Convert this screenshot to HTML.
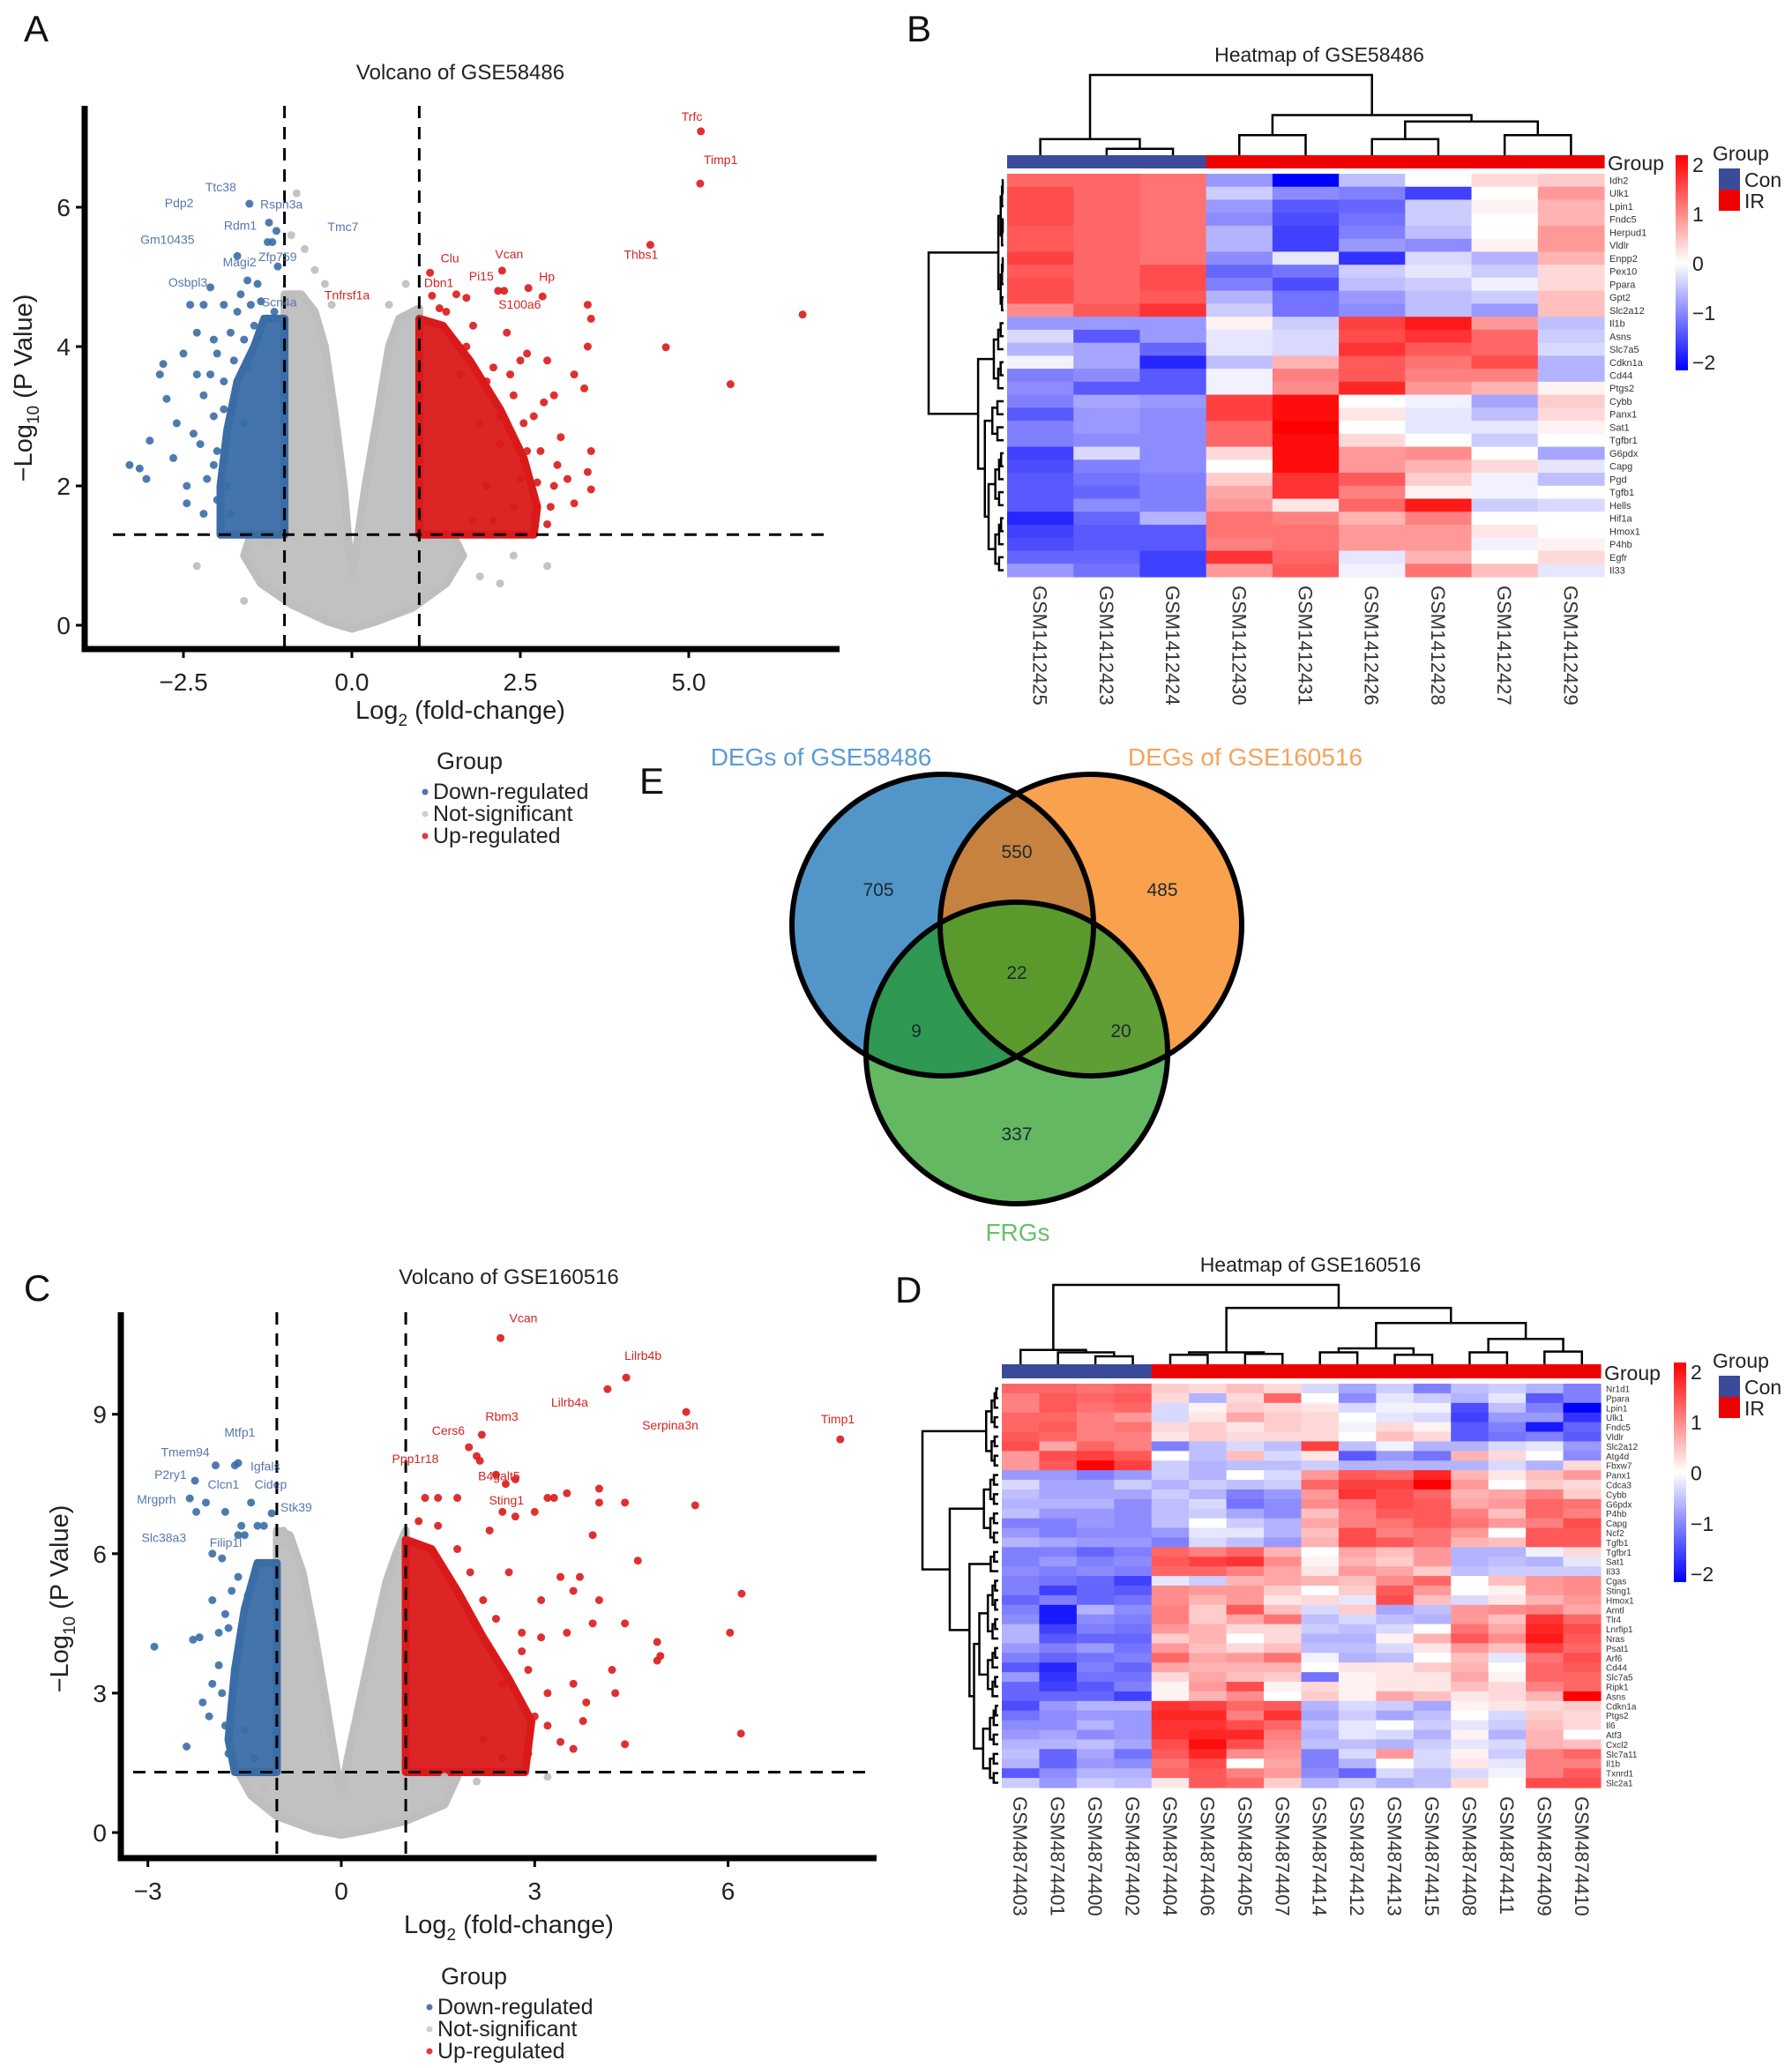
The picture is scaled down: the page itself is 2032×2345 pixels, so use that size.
<!DOCTYPE html>
<html><head><meta charset="utf-8"><style>
html,body{margin:0;padding:0;background:#fff}
svg{display:block;font-family:"Liberation Sans",Arial,sans-serif}
</style></head><body>
<svg id="fig" width="2032" height="2345" viewBox="0 0 2032 2345" xmlns="http://www.w3.org/2000/svg">
<g id="gA"></g>
<g id="gB"></g>
<g id="gC"></g>
<g id="gD"></g>
<g id="gE"></g>
</svg>
<script>
// ================= DATA =================
// Panel A volcano
const aXTicks=[-2.5,0,2.5,5];
const aXTickLabels=["\u22122.5","0.0","2.5","5.0"];
const aYTicks=[0,2,4,6];
const aGrayRegion=[[-1.0,4.75],[-0.75,4.75],[-0.55,4.5],[-0.4,4.0],[-0.25,3.0],[-0.12,2.0],[-0.05,1.2],[0,0.7],[0.08,1.2],[0.2,2.0],[0.38,3.0],[0.55,4.0],[0.7,4.4],[1.0,4.55],[1.0,1.3],[1.5,1.3],[1.65,1.0],[1.4,0.6],[0.9,0.25],[0.35,0.05],[0,-0.05],[-0.35,0.05],[-0.9,0.3],[-1.35,0.6],[-1.6,1.0],[-1.5,1.3],[-1.0,1.3]];
const aDownRegion=[[-1,1.3],[-1,4.4],[-1.3,4.4],[-1.45,4.0],[-1.7,3.5],[-1.85,2.8],[-1.95,2.0],[-1.95,1.3]];
const aUpRegion=[[1,1.3],[1,4.4],[1.35,4.3],[1.75,3.8],[2.2,3.1],[2.55,2.4],[2.75,1.7],[2.7,1.3]];
const aGrayPts=[[-0.82,6.2],[-0.7,5.4],[-0.55,5.1],[-0.4,4.9],[-2.3,0.85],[-1.6,0.35],[-1.25,1.15],[2.2,0.6],[2.9,0.85],[1.9,0.7],[0.8,4.9],[0.55,4.6],[-0.9,5.6],[-0.3,4.6],[1.6,1.1],[2.4,1.0]];
const aDownPts=[[-3.3,2.3],[-3.15,2.25],[-3.05,2.1],[-3.0,2.65],[-2.85,3.6],[-2.8,3.75],[-2.75,3.25],[-2.65,2.4],[-2.5,3.9],[-2.45,1.75],[-2.45,2.0],[-2.4,4.6],[-2.35,2.75],[-2.3,3.6],[-2.3,4.2],[-2.2,4.6],[-2.2,3.3],[-2.15,2.1],[-2.1,4.85],[-2.05,4.1],[-2.05,3.0],[-2.0,2.5],[-1.95,1.4],[-1.9,4.6],[-1.9,3.5],[-1.85,2.0],[-1.8,4.2],[-1.75,3.8],[-1.7,5.3],[-1.7,4.5],[-1.65,4.75],[-1.6,2.9],[-1.55,4.95],[-1.5,4.6],[-1.45,4.3],[-1.4,4.9],[-1.35,4.65],[-1.3,4.4],[-1.52,6.05],[-1.23,5.78],[-1.12,5.66],[-1.18,5.5],[-1.25,5.5],[-1.1,5.15],[-1.15,4.5],[-2.6,2.9],[-2.0,1.8],[-1.8,1.6],[-2.25,2.6],[-2.1,3.6],[-2.0,3.9],[-1.9,3.1],[-2.2,1.6],[-2.05,2.3],[-1.6,4.1],[-1.55,3.7]];
const aUpPts=[[5.18,7.09],[5.17,6.34],[4.43,5.46],[6.69,4.46],[4.66,3.99],[5.62,3.46],[2.23,5.09],[2.62,4.84],[2.17,4.8],[2.26,4.8],[2.83,4.72],[1.16,5.06],[1.55,4.75],[1.7,4.7],[1.19,4.73],[3.5,4.6],[3.55,4.4],[3.5,4.0],[3.55,2.5],[3.3,3.6],[3.45,3.4],[3.0,3.3],[2.9,3.8],[2.6,3.9],[2.5,3.8],[2.3,4.2],[2.8,2.5],[3.1,2.7],[3.2,2.1],[3.5,2.2],[3.55,1.95],[2.95,1.7],[2.7,1.6],[2.9,1.45],[3.3,1.75],[2.5,2.1],[2.2,2.6],[2.0,3.5],[1.8,4.3],[1.7,4.0],[1.6,3.6],[2.1,3.7],[2.4,3.3],[2.7,3.0],[2.55,2.9],[3.05,2.3],[2.75,2.05],[1.8,1.5],[2.1,1.5],[2.4,1.7],[2.6,2.5],[2.0,2.0],[1.9,2.9],[2.2,3.0],[1.4,4.5],[1.3,4.55],[2.85,3.2],[3.0,2.0],[2.35,3.6]];
const aLabels=[["Trfc",5.18,7.09,-22,-12,"up"],["Timp1",5.17,6.34,4,-22,"up"],["Thbs1",4.43,5.46,-30,16,"up"],["Vcan",2.23,5.09,-8,-14,"up"],["Hp",2.62,4.84,12,-8,"up"],["Pi15",2.17,4.8,-33,-12,"up"],["S100a6",2.83,4.72,-50,14,"up"],["Clu",1.16,5.06,12,-12,"up"],["Dbn1",1.7,4.7,-48,-12,"up"],["Tnfrsf1a",1.19,4.73,-122,4,"up"],["Ttc38",-1.52,6.05,-50,-14,"down"],["Rsph3a",-1.23,5.78,-10,-16,"down"],["Pdp2",-1.6,5.9,-90,-8,"down"],["Rdm1",-1.18,5.5,-55,-14,"down"],["Tmc7",-1.12,5.66,58,0,"down"],["Gm10435",-1.7,5.3,-110,-14,"down"],["Zfp759",-1.1,5.15,-22,-6,"down"],["Osbpl3",-2.07,4.86,-50,0,"down"],["Magi2",-1.55,4.95,-28,-16,"down"],["Scn4a",-1.1,4.45,-18,-10,"down"]];

// Panel C volcano
const cXTicks=[-3,0,3,6];
const cXTickLabels=["\u22123","0","3","6"];
const cYTicks=[0,3,6,9];
const cGrayRegion=[[-1,6.5],[-0.8,6.4],[-0.6,5.6],[-0.42,4.3],[-0.25,2.9],[-0.1,1.6],[0,0.8],[0.1,1.6],[0.3,2.9],[0.5,4.2],[0.7,5.4],[0.85,6.0],[1.0,6.5],[1.0,1.3],[1.8,1.2],[1.6,0.6],[1,0.25],[0.4,0.05],[0,-0.05],[-0.4,0.05],[-1.0,0.35],[-1.4,0.8],[-1.6,1.3],[-1,1.3]];
const cDownRegion=[[-1,1.3],[-1,5.8],[-1.3,5.8],[-1.5,4.8],[-1.65,3.5],[-1.75,2.0],[-1.65,1.3]];
const cUpRegion=[[1,1.3],[1,6.3],[1.4,6.1],[1.8,5.2],[2.2,4.2],[2.6,3.3],[2.95,2.4],[2.85,1.3]];
const cGrayPts=[[-0.9,6.5],[-1.1,0.5],[1.6,1.2],[2.1,1.1],[3.2,1.2],[-1.2,1.0],[0.8,5.7],[-0.85,6.2]];
const cDownPts=[[-2.9,4.0],[-2.4,1.85],[-2.3,4.15],[-2.2,4.2],[-2.15,2.8],[-2.05,2.5],[-2.0,6.0],[-2.0,5.0],[-1.95,7.9],[-1.9,3.6],[-1.85,5.9],[-1.8,4.7],[-1.75,1.7],[-1.7,2.8],[-1.6,7.95],[-1.65,7.9],[-1.6,6.4],[-1.5,6.4],[-1.45,5.1],[-2.27,7.57],[-2.35,7.19],[-2.1,7.1],[-1.8,6.9],[-1.4,7.1],[-1.3,6.6],[-1.2,6.6],[-1.08,6.87],[-1.55,6.6],[-2.25,6.9],[-1.9,4.3],[-1.5,2.2],[-2.0,3.2],[-1.35,1.6],[-1.8,2.3],[-1.75,4.4],[-1.85,3.0],[-1.6,5.5],[-1.7,5.2]];
const cUpPts=[[2.47,10.64],[4.42,9.79],[4.13,9.54],[5.35,9.05],[7.74,8.46],[2.18,8.56],[1.98,8.29],[2.1,8.1],[2.15,8.0],[2.4,7.7],[2.55,7.5],[2.7,7.6],[5.49,7.04],[6.21,5.14],[6.03,4.3],[6.2,2.13],[4.6,5.85],[4.9,4.1],[4.9,3.7],[4.95,3.8],[4.4,7.1],[4.4,4.5],[4.4,1.9],[4.2,3.5],[4.25,3.0],[4.0,7.4],[4.0,7.1],[3.9,6.4],[3.7,5.5],[3.6,5.2],[3.5,7.3],[3.3,7.2],[3.2,7.2],[3.0,6.9],[3.1,5.0],[3.5,4.3],[3.6,3.2],[3.8,2.8],[3.75,2.4],[3.2,2.3],[3.0,2.5],[2.9,3.5],[2.5,3.2],[2.8,4.3],[2.6,5.6],[2.3,6.5],[2.7,6.8],[2.5,6.9],[1.8,7.2],[1.5,7.2],[1.3,7.2],[1.2,6.7],[3.6,1.8],[3.4,1.95],[2.9,1.7],[2.5,1.6],[2.2,2.0],[3.9,4.5],[4.0,5.0],[3.4,5.5],[2.2,5.0],[2.0,5.6],[1.8,6.1],[1.5,6.6],[2.4,4.6],[2.8,3.9],[3.2,3.0],[3.1,4.2]];
const cLabels=[["Vcan",2.47,10.64,10,-18,"up"],["Lilrb4b",4.42,9.79,-2,-20,"up"],["Lilrb4a",4.13,9.54,-64,20,"up"],["Serpina3n",5.35,9.05,-50,20,"up"],["Timp1",7.74,8.46,-22,-18,"up"],["Rbm3",2.18,8.56,4,-16,"up"],["Cers6",1.98,8.29,-42,-14,"up"],["Ppp1r18",2.1,8.1,-96,8,"up"],["B4galt5",2.15,8.0,-2,22,"up"],["Sting1",2.4,7.7,-8,34,"up"],["Mtfp1",-1.65,7.95,-12,-30,"down"],["Tmem94",-1.95,7.87,-62,-12,"down"],["Igfals",-1.6,7.9,14,6,"down"],["P2ry1",-2.27,7.57,-46,-2,"down"],["Clcn1",-2.1,7.1,2,-16,"down"],["Cidep",-1.4,7.1,4,-16,"down"],["Mrgprh",-2.35,7.19,-60,6,"down"],["Stk39",-1.08,6.87,10,-2,"down"],["Slc38a3",-2.25,6.9,-62,34,"down"],["Filip1l",-1.55,6.6,-36,24,"down"]];

// Panel B heatmap
const bGenes=["Idh2","Ulk1","Lpin1","Fndc5","Herpud1","Vldlr","Enpp2","Pex10","Ppara","Gpt2","Slc2a12","Il1b","Asns","Slc7a5","Cdkn1a","Cd44","Ptgs2","Cybb","Panx1","Sat1","Tgfbr1","G6pdx","Capg","Pgd","Tgfb1","Hells","Hif1a","Hmox1","P4hb","Egfr","Il33"];
const bSamples=["GSM1412425","GSM1412423","GSM1412424","GSM1412430","GSM1412431","GSM1412426","GSM1412428","GSM1412427","GSM1412429"];
const bGroups=["Con","Con","Con","IR","IR","IR","IR","IR","IR"];
const bValues=[
[1.2,1.2,1.1,-0.8,-2,-0.5,0,0.3,0.4],
[1.4,1.2,1.1,-0.4,-0.9,-1,-1.5,0,0.8],
[1.4,1.2,1.1,-0.8,-1.3,-1.2,-0.4,0.1,0.6],
[1.4,1.2,1.1,-0.9,-1.4,-1.1,-0.4,0,0.6],
[1.3,1.2,1.1,-0.6,-1.5,-1.0,-0.5,0,0.8],
[1.3,1.2,1.1,-0.6,-1.5,-0.8,-0.9,0.1,0.8],
[1.5,1.2,1.1,-0.9,-0.2,-1.6,-0.3,-0.6,0.6],
[1.3,1.2,1.4,-1.2,-1.1,-0.4,-0.2,-0.4,0.3],
[1.4,1.2,1.4,-1.0,-1.4,-0.5,-0.4,-0.1,0.3],
[1.4,1.2,1.3,-0.6,-1.1,-0.8,-0.5,-0.4,0.5],
[0.9,1.3,1.6,-0.4,-1.1,-0.9,-0.5,-0.8,0.5],
[-0.8,-0.8,-0.8,0.1,-0.4,1.5,1.8,0.8,-0.5],
[-0.3,-1.3,-0.8,-0.2,-0.3,1.4,1.6,1.2,-0.4],
[-0.6,-0.7,-1.2,-0.2,-0.3,1.6,1.3,1.2,-0.3],
[-0.1,-0.7,-1.7,-0.5,0.6,1.3,1.1,1.4,-0.6],
[-1.0,-0.9,-1.3,-0.1,1.0,1.3,1.0,1.0,-0.6],
[-0.9,-1.3,-1.3,-0.1,0.9,1.7,0.8,0.6,0.1],
[-1.0,-0.7,-0.8,1.5,1.9,0,-0.1,-0.7,0.4],
[-1.3,-0.8,-0.9,1.5,1.9,0.2,-0.2,-0.5,0.3],
[-1.0,-0.8,-0.9,1.2,2.2,0,-0.2,-0.2,0.1],
[-1.0,-0.9,-0.9,1.2,1.9,0.3,0,-0.4,0],
[-1.5,-0.3,-0.9,0.3,1.9,0.8,0.9,0,-0.7],
[-1.4,-1.0,-0.9,0,1.9,0.8,0.6,0.3,-0.2],
[-1.3,-1.1,-1.0,0.4,1.6,1.3,0.4,-0.1,-0.5],
[-1.3,-1.2,-1.0,0.7,1.6,1.0,0.1,-0.1,0],
[-1.3,-0.9,-1.0,0.8,0.2,1.2,1.8,-0.4,-0.3],
[-1.7,-1.2,-0.6,1.1,1.0,0.6,1.0,0,0],
[-1.5,-1.3,-1.3,1.1,1.1,0.8,0.8,0.2,0],
[-1.4,-1.3,-1.3,1.0,1.1,0.8,0.8,-0.1,0.1],
[-1.2,-1.2,-1.5,1.6,1.2,-0.2,0.6,0,0.3],
[-0.8,-1.1,-1.5,0.8,1.3,-0.1,1.1,0.5,-0.2]];

// Panel D heatmap
const dGenes=["Nr1d1","Ppara","Lpin1","Ulk1","Fndc5","Vldlr","Slc2a12","Atg4d","Fbxw7","Panx1","Cdca3","Cybb","G6pdx","P4hb","Capg","Ncf2","Tgfb1","Tgfbr1","Sat1","Il33","Cgas","Sting1","Hmox1","Arntl","Tlr4","Lnrfip1","Nras","Psat1","Arf6","Cd44","Slc7a5","Ripk1","Asns","Cdkn1a","Ptgs2","Il6","Atf3","Cxcl2","Slc7a11","Il1b","Txnrd1","Slc2a1"];
const dSamples=["GSM4874403","GSM4874401","GSM4874400","GSM4874402","GSM4874404","GSM4874406","GSM4874405","GSM4874407","GSM4874414","GSM4874412","GSM4874413","GSM4874415","GSM4874408","GSM4874411","GSM4874409","GSM4874410"];
const dGroups=["Con","Con","Con","Con","IR","IR","IR","IR","IR","IR","IR","IR","IR","IR","IR","IR"];
const dValues=[
[1.2,1.2,1.1,1.2,0.4,0.3,0.5,0.3,-0.3,-0.7,-0.4,-1.0,-0.5,-0.4,-0.6,-1.0],
[1.0,1.3,1.2,1.3,0.3,-0.6,0.3,1.2,0,-0.9,-0.2,-0.4,-0.6,-0.2,-1.3,-1.0],
[1.0,1.3,1.1,1.2,-0.3,0.1,0.4,0.3,0.2,-0.3,-0.1,-0.1,-1.4,-0.5,-1.0,-2.0],
[1.2,1.2,1.0,0.8,-0.3,0.2,0.7,0.4,0.3,0,-0.2,-0.3,-1.5,-0.8,-0.8,-1.6],
[1.2,1.3,1.0,1.1,0.3,0.4,0.2,0.4,0.3,-0.1,0.3,0.1,-1.3,-1.0,-1.8,-1.2],
[1.3,1.2,1.0,1.0,0.2,0.4,0.3,0.3,0.3,0,0.5,0.3,-1.3,-1.1,-1.0,-1.3],
[1.4,0.7,1.2,1.0,-1.0,-0.5,-0.3,-0.5,1.5,-0.5,-0.1,-0.6,-0.6,-0.3,-0.2,-0.8],
[0.8,1.4,1.5,1.3,0,-0.5,0.5,-0.3,0.2,-1.3,-0.8,-1.1,0.6,0.3,0,-0.9],
[0.8,1.3,2.0,1.5,-0.4,-0.6,-0.5,-0.5,-0.4,-0.6,-0.6,-0.6,-0.6,-0.3,-0.6,0.3],
[-0.8,-0.8,-1.0,-0.8,-0.4,-0.6,0,-0.3,0.8,1.3,1.2,1.7,0.6,0.2,0.5,0.8],
[-0.3,-0.7,-0.7,-0.4,-0.6,-0.4,-0.5,-0.4,1.2,1.5,1.5,2.0,0.8,0,0.4,0.3],
[-0.5,-0.7,-0.7,-0.7,-0.4,-0.6,-1.0,-0.8,0.8,1.6,1.4,1.2,0.6,0.7,1.0,0.4],
[-0.6,-0.6,-0.6,-0.9,-0.5,-0.3,-1.1,-0.9,0.9,1.1,1.4,1.3,0.7,0.8,1.2,1.1],
[-0.5,-0.8,-0.8,-0.9,-0.5,-0.4,-0.7,-0.9,0.5,1.0,1.3,1.3,1.0,0.5,1.2,1.0],
[-1.0,-1.0,-0.8,-0.9,-0.5,0,-0.4,-0.6,0.7,1.0,1.1,1.3,1.1,0.8,1.0,1.4],
[-0.8,-1.0,-0.9,-0.9,-0.8,-0.2,-0.2,-0.6,0.5,1.4,1.0,1.1,0.8,0,1.3,1.3],
[-0.6,-0.7,-0.8,-0.8,-1.0,-0.3,-0.5,-0.8,0.6,1.4,1.3,1.1,0.6,0.5,1.3,1.3],
[-1.0,-1.0,-1.2,-1.0,1.2,1.0,1.2,0.6,0,0.7,0.5,0.8,-0.6,-0.6,-0.1,0.3],
[-1.0,-0.8,-1.0,-0.9,1.3,1.5,1.6,0.9,0.1,0.6,0.4,0.8,-0.6,-0.5,-0.6,-0.2],
[-0.9,-1.0,-0.9,-1.0,1.2,1.2,1.0,0.7,0.2,0.8,0.7,0.4,-0.5,-0.4,-0.4,-0.4],
[-1.0,-1.1,-1.2,-1.5,-0.2,-0.4,0.6,0.7,0.6,0.5,0.9,1.2,0,0.5,0.8,0.9],
[-1.0,-1.5,-1.2,-1.3,0.9,0.8,0.8,0.4,0,0.4,1.3,0.8,0,0.1,0.8,0.9],
[-1.2,-1.0,-1.2,-1.1,0.9,0.6,0.8,0.2,0.3,-0.2,1.4,0.5,-0.3,0.2,0.6,0.8],
[-1.0,-1.8,-0.6,-0.9,1.0,0.4,1.3,0.5,-0.3,0.4,-0.7,-0.5,0.8,0.9,1.0,0.7],
[-0.9,-1.8,-0.9,-1.0,1.0,0.4,0.7,1.1,-0.5,-0.3,-0.5,-0.6,0.8,0.5,1.6,1.2],
[-0.6,-1.5,-1.0,-1.1,0.8,0.6,0.3,0.3,-0.4,-0.5,-0.3,0,1.1,0.7,1.7,1.4],
[-0.6,-1.3,-1.2,-1.2,0.4,0.6,0,0.3,-0.6,-0.6,0.1,0.6,1.3,0.9,1.8,1.3],
[-0.8,-1.0,-0.8,-1.1,0.8,0.5,0.3,0.5,-0.5,-0.5,-0.3,0.2,0.8,0.5,1.5,1.2],
[-1.0,-1.2,-1.1,-1.0,1.2,0.7,0.8,1.1,-0.1,-0.6,-0.5,0,0.5,-0.2,1.1,1.4],
[-1.3,-1.7,-1.0,-1.2,0.7,0.6,0.6,0.6,0,0.2,0.2,0.4,0.6,0,1.2,1.3],
[-0.8,-1.6,-1.1,-1.1,0.3,0.7,0.5,0.4,-1.1,0.1,0.2,0.2,0.7,0.1,1.2,1.2],
[-1.2,-1.5,-1.3,-1.0,0.1,0.8,1.4,0.1,0.3,0.1,0.2,0.2,0.5,0.3,1.0,1.2],
[-1.2,-1.2,-1.2,-1.5,0.1,0.6,0.9,0,0.4,0.1,0.7,0.5,0.2,0.3,0.6,2.0],
[-1.4,-0.8,-0.6,-0.6,1.6,1.5,1.2,1.3,-0.6,-0.3,-0.4,-0.7,0.1,0.2,0.3,0.4],
[-1.1,-0.9,-0.8,-0.8,1.7,1.7,1.0,1.6,-0.7,-0.4,-0.7,-0.5,0,-0.3,0.4,0.3],
[-0.9,-0.9,-0.6,-0.8,1.6,1.6,1.4,1.2,-0.5,-0.2,0,-0.4,-0.2,-0.4,0.5,0.3],
[-0.8,-0.7,-0.9,-0.8,1.6,1.7,1.7,1.0,-0.6,-0.2,-0.3,-0.6,0.1,-0.6,0.6,0],
[-0.6,-0.6,-0.5,-0.7,1.4,1.9,1.4,0.9,-0.5,-0.5,-0.6,-0.4,-0.2,-0.3,0.6,0.5],
[-0.5,-1.2,-0.7,-1.1,1.3,1.7,0.9,0.8,-1.0,-0.3,0.8,-0.3,0.1,-0.4,1.0,1.2],
[-0.6,-1.2,-0.8,-0.9,1.1,1.4,0,0.7,-1.0,-0.6,0,-0.3,0.2,-0.2,1.0,1.0],
[-1.3,-0.9,-0.6,-0.6,1.2,1.3,1.0,0.8,-0.9,-1.2,-0.3,-0.5,-0.3,-0.1,1.0,1.3],
[-0.4,-0.8,-0.4,-0.5,0.2,1.3,1.2,0.4,-0.6,-0.4,-0.6,-0.5,0.3,0,1.4,1.4]];

// Venn counts
const vennLabels=["DEGs of GSE58486","DEGs of GSE160516","FRGs"];
const vennCounts={A:705,B:485,C:337,AB:550,AC:9,BC:20,ABC:22};

// ================= HELPERS =================
const NS="http://www.w3.org/2000/svg";
function mk(parent,tag,attrs,text){const e=document.createElementNS(NS,tag);for(const k in attrs)e.setAttribute(k,attrs[k]);if(text!==undefined)e.textContent=text;parent.appendChild(e);return e;}
const BLUE="#3A6DA6",RED="#DA1A1A",GRAY="#BEBEBE";

function volcano(g,cfg){
  const sx=v=>cfg.x0+v*cfg.ux, sy=v=>cfg.y0-v*cfg.uy;
  [[cfg.gray,GRAY,"not-significant-cloud"],[cfg.down,BLUE,"down-regulated-cloud"],[cfg.up,RED,"up-regulated-cloud"]].forEach(([pts,col,nm])=>{
    const p=mk(g,"polygon",{points:pts.map(q=>sx(q[0])+","+sy(q[1])).join(" "),fill:col,stroke:col,"stroke-width":9,"stroke-linejoin":"round","fill-opacity":0.95});
    
    
  });
  [[cfg.grayPts,GRAY,"not-significant-point"],[cfg.downPts,BLUE,"down-regulated-point"],[cfg.upPts,RED,"up-regulated-point"]].forEach(([pts,col,nm])=>{
    pts.forEach(q=>{const c=mk(g,"circle",{cx:sx(q[0]),cy:sy(q[1]),r:4.5,fill:col,"fill-opacity":0.9});
      
      });
  });
  [-1,1].forEach(v=>{const l=mk(g,"line",{x1:sx(v),x2:sx(v),y1:cfg.top,y2:cfg.axY,stroke:"#000","stroke-width":3,"stroke-dasharray":"14,10"});
    
    });
  const hl=mk(g,"line",{x1:cfg.hx1,x2:cfg.hx2,y1:sy(1.3),y2:sy(1.3),stroke:"#000","stroke-width":3,"stroke-dasharray":"14,10"});
  
  
  cfg.labels.forEach(L=>{const col=L[5]=="up"?"#D42424":"#5677AE";
    const t=mk(g,"text",{x:sx(L[1])+L[3],y:sy(L[2])+L[4],"font-size":14,fill:col},L[0]);
    
    });
  const ax=mk(g,"path",{d:`M${cfg.axX},${cfg.top} V${cfg.axY} H${cfg.right}`,fill:"none",stroke:"#000","stroke-width":7});
  
  
  cfg.yTicks.forEach(v=>{mk(g,"line",{x1:cfg.axX-10,x2:cfg.axX,y1:sy(v),y2:sy(v),stroke:"#000","stroke-width":3});
    const t=mk(g,"text",{x:cfg.axX-16,y:sy(v)+10,"font-size":28,"text-anchor":"end",fill:"#222"},String(v));
    
    });
  cfg.xTicks.forEach((v,i)=>{mk(g,"line",{x1:sx(v),x2:sx(v),y1:cfg.axY,y2:cfg.axY+10,stroke:"#000","stroke-width":3});
    const t=mk(g,"text",{x:sx(v),y:cfg.axY+47,"font-size":28,"text-anchor":"middle",fill:"#222"},cfg.xTickLabels[i]);
    
    });
  const tt=mk(g,"text",{x:cfg.titleX,y:cfg.titleY,"font-size":24,"text-anchor":"middle",fill:"#222"},cfg.title);
  
  
  const xt=mk(g,"text",{x:cfg.titleX,y:cfg.xTitleY,"font-size":29,"text-anchor":"middle",fill:"#222"});
  xt.innerHTML='Log<tspan font-size="19" dy="8">2</tspan><tspan dy="-8"> (fold-change)</tspan>';
  
  
  const yt=mk(g,"text",{transform:`translate(${cfg.yTitleX},${cfg.yTitleY}) rotate(-90)`,"font-size":29,"text-anchor":"middle",fill:"#222"});
  yt.innerHTML='\u2212Log<tspan font-size="19" dy="8">10</tspan><tspan dy="-8"> (P Value)</tspan>';
  
  
  const lg=mk(g,"g",{});
  
  
  mk(lg,"text",{x:cfg.legX+8,y:cfg.legY,"font-size":27,fill:"#222"},"Group");
  [["Down-regulated","#5C6FB0"],["Not-significant","#D0D0D0"],["Up-regulated","#E03A3A"]].forEach((e,i)=>{
    const yy=cfg.legY+34+i*25;
    const en=mk(lg,"g",{});
    
    
    mk(en,"circle",{cx:cfg.legX-5,cy:yy-8,r:3.5,fill:e[1]});
    mk(en,"text",{x:cfg.legX+4,y:yy,"font-size":25,fill:"#222"},e[0]);
  });
}

function col(v){v=Math.max(-2,Math.min(2,v));let t=Math.abs(v)/2;const c=Math.round(255*(1-t));return v>=0?`rgb(255,${c},${c})`:`rgb(${c},${c},255)`;}

function balanced(lo,hi,h){if(lo==hi)return lo;const m=Math.floor((lo+hi)/2);return [balanced(lo,m,h*0.55),balanced(m+1,hi,h*0.55),h];}

function drawTree(g,node,leafPos,base,scale,vertical){
  if(typeof node==="number")return [leafPos(node),0];
  const a=drawTree(g,node[0],leafPos,base,scale,vertical),b=drawTree(g,node[1],leafPos,base,scale,vertical);
  const h=node[2];const p=base-h*scale;
  let d;
  if(vertical) d=`M${a[0]},${base-a[1]*scale} V${p} H${b[0]} V${base-b[1]*scale}`;
  else d=`M${base-a[1]*scale},${a[0]} H${p} V${b[0]} H${base-b[1]*scale}`;
  const e=mk(g,"path",{d:d,fill:"none",stroke:"#000","stroke-width":2.5});
  
  
  return [(a[0]+b[0])/2,h];
}

function heatmap(g,cfg){
  const nR=cfg.genes.length,nC=cfg.samples.length;
  const cw=(cfg.x1-cfg.x0)/nC,rh=(cfg.y1-cfg.y0)/nR;
  cfg.values.forEach((row,r)=>row.forEach((v,c)=>{
    const e=mk(g,"rect",{x:cfg.x0+c*cw,y:cfg.y0+r*rh,width:cw+0.6,height:rh+0.6,fill:col(v)});
    
    
  }));
  cfg.groups.forEach((gr,c)=>{const e=mk(g,"rect",{x:cfg.x0+c*cw,y:cfg.barY0,width:cw+0.6,height:cfg.barY1-cfg.barY0,fill:gr=="Con"?"#3C4A9A":"#EE0000"});
    
    });
  cfg.genes.forEach((gn,r)=>{const t=mk(g,"text",{x:cfg.x1+6,y:cfg.y0+(r+0.5)*rh+4,"font-size":cfg.rowFont,fill:"#333"},gn);
    
    });
  cfg.samples.forEach((s,c)=>{const x=cfg.x0+(c+0.5)*cw;
    const t=mk(g,"text",{transform:`translate(${x-8},${cfg.y1+10}) rotate(90)`,"font-size":22,fill:"#333"},s);
    
    });
  drawTree(g,cfg.colTree,c=>cfg.x0+(c+0.5)*cw,cfg.barY0,cfg.barY0-cfg.colRootY,true);
  drawTree(g,cfg.rowTree,r=>cfg.y0+(r+0.5)*rh,cfg.x0-4,cfg.x0-4-cfg.rowRootX,false);
  const tt=mk(g,"text",{x:cfg.titleX,y:cfg.titleY,"font-size":23,"text-anchor":"middle",fill:"#222"},cfg.title);
  
  
  const gl=mk(g,"text",{x:cfg.x1+4,y:cfg.barY1+2,"font-size":23,fill:"#222"},"Group");
  
  
  const gid="cb"+cfg.id;
  const defs=mk(g,"defs",{});const lgd=mk(defs,"linearGradient",{id:gid,x1:0,y1:0,x2:0,y2:1});
  [["0%","#FF0000"],["25%","#FF7F7F"],["50%","#FFFFFF"],["75%","#7F7FFF"],["100%","#0000FF"]].forEach(s=>mk(lgd,"stop",{offset:s[0],"stop-color":s[1]}));
  const cb=mk(g,"rect",{x:cfg.cbX,y:cfg.cbY0,width:14,height:cfg.cbY1-cfg.cbY0,fill:`url(#${gid})`});
  
  
  ["2","1","0","\u22121","\u22122"].forEach((s,i)=>{const y=cfg.cbY0+(cfg.cbY1-cfg.cbY0)*(0.04+i*0.23);
    const t=mk(g,"text",{x:cfg.cbX+19,y:y+9,"font-size":23,fill:"#222"},s);
    
    });
  const lg=mk(g,"g",{});
  
  
  mk(lg,"text",{x:1942,y:cfg.cbY0+6,"font-size":23,fill:"#222"},"Group");
  mk(lg,"rect",{x:1949,y:cfg.cbY0+15,width:24,height:24,fill:"#3C4A9A"});
  mk(lg,"rect",{x:1949,y:cfg.cbY0+39,width:24,height:24,fill:"#EE0000"});
  mk(lg,"text",{x:1978,y:cfg.cbY0+36,"font-size":23,fill:"#222"},"Con");
  mk(lg,"text",{x:1978,y:cfg.cbY0+60,"font-size":23,fill:"#222"},"IR");
}

// ================= DRAW =================
const gA=document.getElementById("gA"),gB=document.getElementById("gB"),gC=document.getElementById("gC"),gD=document.getElementById("gD"),gE=document.getElementById("gE");
function letter(g,s,x,y,nm){const t=mk(g,"text",{x:x,y:y,"font-size":42,fill:"#111"},s);}

volcano(gA,{x0:399,ux:76.4,y0:709,uy:79.0,top:120,axX:96,axY:736,right:952,hx1:128,hx2:942,
  gray:aGrayRegion,down:aDownRegion,up:aUpRegion,grayPts:aGrayPts,downPts:aDownPts,upPts:aUpPts,labels:aLabels,
  xTicks:aXTicks,xTickLabels:aXTickLabels,yTicks:aYTicks,title:"Volcano of GSE58486",titleX:522,titleY:90,xTitleY:815,yTitleX:36,yTitleY:440,legX:487,legY:872});
letter(gA,"A",27,47,"panel-label-a");

volcano(gC,{x0:387,ux:73.1,y0:2078,uy:52.7,top:1488,axX:137,axY:2107,right:994,hx1:151,hx2:984,
  gray:cGrayRegion,down:cDownRegion,up:cUpRegion,grayPts:cGrayPts,downPts:cDownPts,upPts:cUpPts,labels:cLabels,
  xTicks:cXTicks,xTickLabels:cXTickLabels,yTicks:cYTicks,title:"Volcano of GSE160516",titleX:577,titleY:1456,xTitleY:2192,yTitleX:77,yTitleY:1813,legX:492,legY:2250});
letter(gC,"C",27,1475,"panel-label-c");

heatmap(gB,{id:"B",genes:bGenes,samples:bSamples,groups:bGroups,values:bValues,x0:1142,x1:1819,y0:197,y1:654,barY0:176,barY1:191,rowFont:11,
  colTree:[[0,[1,2,0.08],0.2],[[3,4,0.25],[[5,6,0.2],[7,8,0.25],0.42],0.5],1],colRootY:85,
  rowTree:[balanced(0,10,0.07),[balanced(11,16,0.13),[balanced(17,20,0.15),balanced(21,30,0.2),0.25],0.34],1],rowRootX:1053,
  title:"Heatmap of GSE58486",titleX:1496,titleY:70,cbX:1900,cbY0:176,cbY1:420});
letter(gB,"B",1028,47,"panel-label-b");

heatmap(gD,{id:"D",genes:dGenes,samples:dSamples,groups:dGroups,values:dValues,x0:1136,x1:1815,y0:1569,y1:2027,barY0:1547,barY1:1563,rowFont:10,
  colTree:[[0,[1,[2,3,0.1],0.15],0.18],[[[4,5,0.12],[6,7,0.13],0.15],[[[8,9,0.15],[10,11,0.12],0.2],[[12,13,0.15],[14,15,0.16],0.32],0.52],0.71],1],colRootY:1457,
  rowTree:[balanced(0,8,0.16),[balanced(9,16,0.19),[balanced(17,19,0.1),[balanced(20,32,0.25),balanced(33,41,0.2),0.32],0.38],0.64],1],rowRootX:1046,
  title:"Heatmap of GSE160516",titleX:1486,titleY:1442,cbX:1898,cbY0:1545,cbY1:1794});
letter(gD,"D",1015,1477,"panel-label-d");

// Venn
(function(){
  const cA=[1069,1049],cB=[1237,1049],cCc=[1153,1194],r=171;
  const defs=mk(gE,"defs",{});
  [["clipA",cA],["clipB",cB],["clipC",cCc]].forEach(([id,c])=>{const cp=mk(defs,"clipPath",{id:id});mk(cp,"circle",{cx:c[0],cy:c[1],r:r});});
  const circ=(c,fill,nm)=>{const e=mk(gE,"circle",{cx:c[0],cy:c[1],r:r,fill:fill});return e;};
  circ(cA,"#5296C9","venn-set-gse58486");
  circ(cB,"#F9A14D","venn-set-gse160516");
  circ(cCc,"#64B862","venn-set-frgs");
  const gab=mk(gE,"g",{"clip-path":"url(#clipA)"});
  const e1=mk(gab,"circle",{cx:cB[0],cy:cB[1],r:r,fill:"#C7823F"});
  const gac=mk(gE,"g",{"clip-path":"url(#clipA)"});
  const e2=mk(gac,"circle",{cx:cCc[0],cy:cCc[1],r:r,fill:"#2F9852"});
  const gbc=mk(gE,"g",{"clip-path":"url(#clipB)"});
  const e3=mk(gbc,"circle",{cx:cCc[0],cy:cCc[1],r:r,fill:"#5F9D35"});
  const gabc=mk(gE,"g",{"clip-path":"url(#clipA)"});const gabc2=mk(gabc,"g",{"clip-path":"url(#clipB)"});
  const e4=mk(gabc2,"circle",{cx:cCc[0],cy:cCc[1],r:r,fill:"#5A9A2C"});
  [cA,cB,cCc].forEach(c=>{const e=mk(gE,"circle",{cx:c[0],cy:c[1],r:r,fill:"none",stroke:"#000","stroke-width":6});});
  const pos={A:[996,1008],AB:[1153,965],B:[1318,1008],ABC:[1153,1102],AC:[1039,1168],BC:[1271,1168],C:[1153,1285]};
  for(const k in pos){const t=mk(gE,"text",{x:pos[k][0],y:pos[k][1]+8,"font-size":21,"text-anchor":"middle",fill:"#1a2a33"},String(vennCounts[k]));
    }
  [[vennLabels[0],931,868,"#5A9BD3"],[vennLabels[1],1412,868,"#F5A35A"],[vennLabels[2],1154,1407,"#6ABF69"]].forEach(L=>{
    const t=mk(gE,"text",{x:L[1],y:L[2],"font-size":28,"text-anchor":"middle",fill:L[3]},L[0]);
    });
  letter(gE,"E",725,900,"panel-label-e");
})();
</script>
</body></html>
